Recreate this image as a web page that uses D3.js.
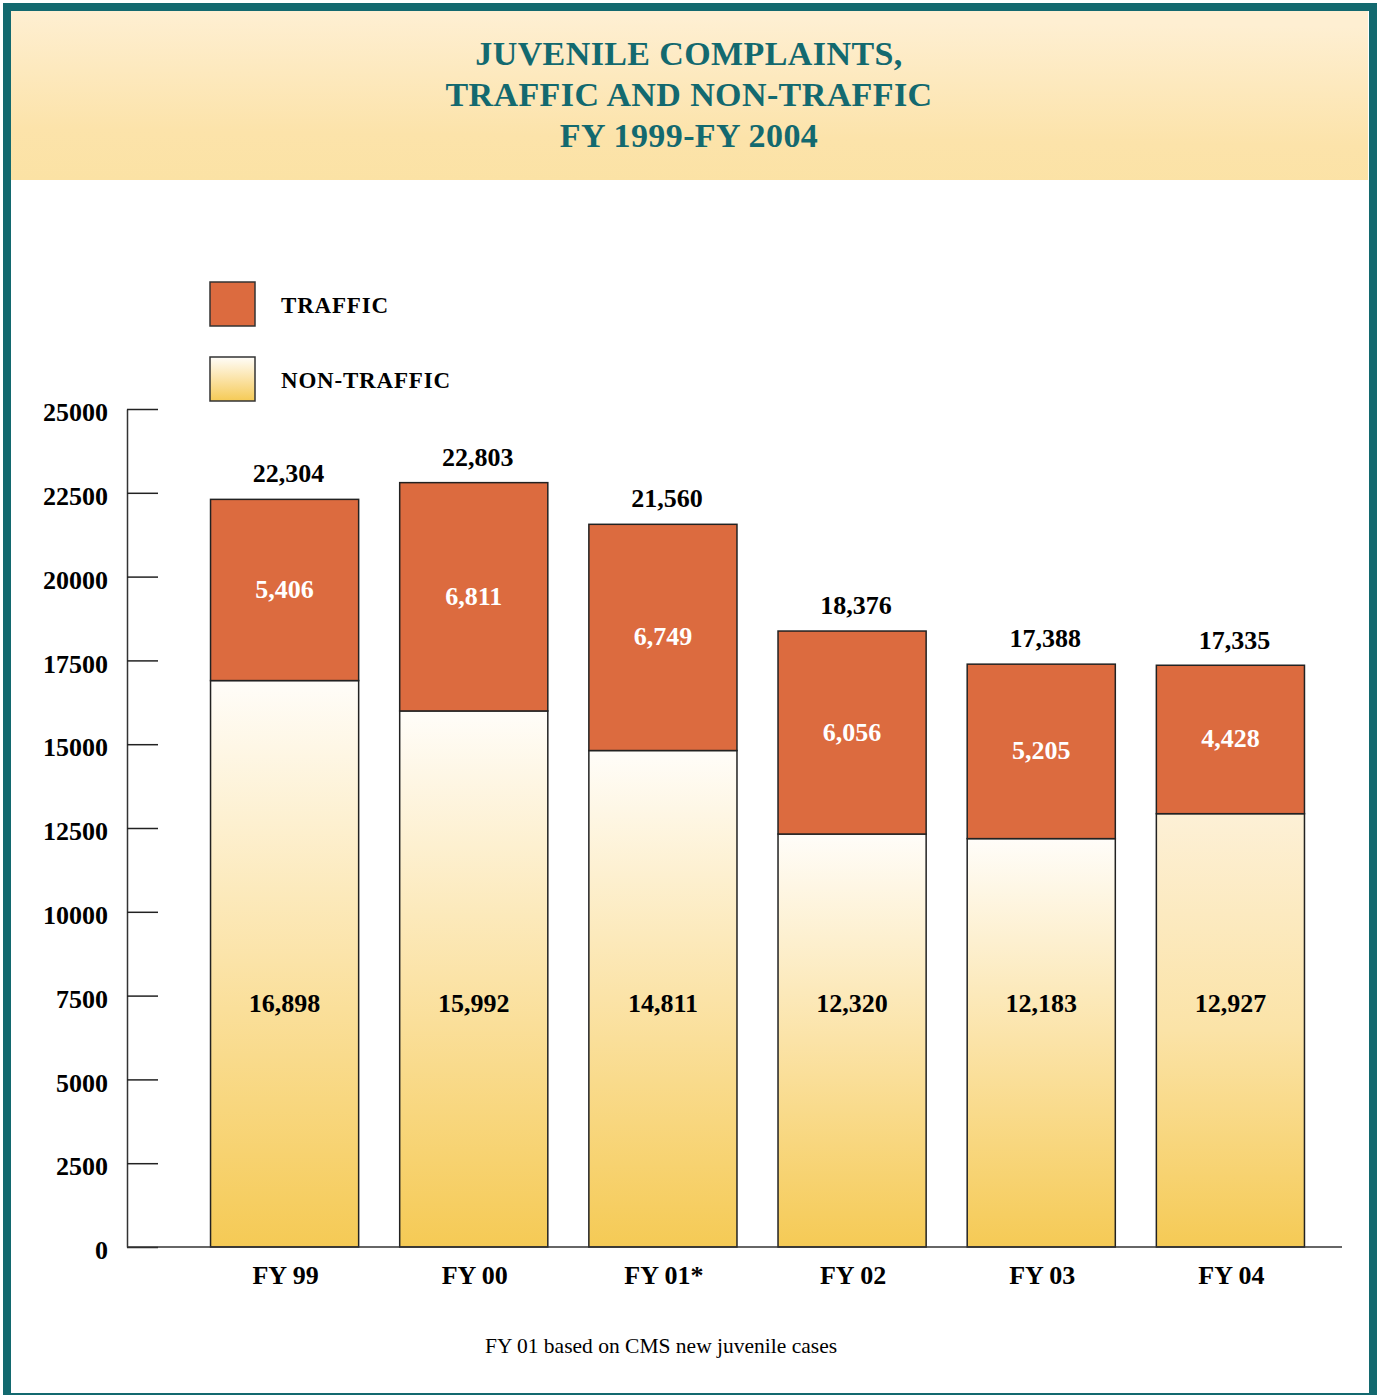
<!DOCTYPE html>
<html>
<head>
<meta charset="utf-8">
<script src="https://cdn.jsdelivr.net/npm/d3@7"></script>
<style>
	body { margin: 0; background: #fff; }
	svg { display: block; }
</style>
</head>
<body>
<script>

// chart values
var years = ["FY 99", "FY 00", "FY 01*", "FY 02", "FY 03", "FY 04"];
var nonTraffic = [16898, 15992, 14811, 12320, 12183, 12927];
var traffic = [5406, 6811, 6749, 6056, 5205, 4428];
var totals = [22304, 22803, 21560, 18376, 17388, 17335];
var yTicks = [0, 2500, 5000, 7500, 10000, 12500, 15000, 17500, 20000, 22500, 25000];
var titleLines = ["JUVENILE COMPLAINTS,", "TRAFFIC AND NON-TRAFFIC", "FY 1999-FY 2004"];
var legendItems = ["TRAFFIC", "NON-TRAFFIC"];
var note = "FY 01 based on CMS new juvenile cases";

var W = 1377, H = 1395;
var teal = "#13696f", orange = "#dc6b3f";
var serif = "'Liberation Serif', 'Times New Roman', serif";

var svg = d3.select("body").append("svg")
	.attr("width", W)
	.attr("height", H);

var defs = svg.append("defs");

// title band gradient
var band = defs.append("linearGradient").attr("id", "bandGrad")
	.attr("x1", 0.1).attr("y1", 0).attr("x2", 0).attr("y2", 1);
band.append("stop").attr("offset", 0).attr("stop-color", "#feefd2");
band.append("stop").attr("offset", 0.7).attr("stop-color", "#fce3aa");
band.append("stop").attr("offset", 1).attr("stop-color", "#fbe2a4");

// non-traffic gradient (white -> yellow)
function ntGradient(id, top) {
	var g = defs.append("linearGradient").attr("id", id)
		.attr("x1", 0).attr("y1", 0).attr("x2", 0).attr("y2", 1);
	g.append("stop").attr("offset", 0).attr("stop-color", top);
	g.append("stop").attr("offset", 0.5).attr("stop-color", "#fbe3a7");
	g.append("stop").attr("offset", 1).attr("stop-color", "#f5ca55");
}
ntGradient("ntGrad", "#fffdf9");
ntGradient("ntGradAlt", "#fdf0d6");

// frame and title band
svg.append("rect")
	.attr("x", 7).attr("y", 7)
	.attr("width", 1366).attr("height", 1390)
	.attr("fill", "#fff")
	.attr("stroke", teal)
	.attr("stroke-width", 8);

svg.append("rect")
	.attr("x", 11).attr("y", 11)
	.attr("width", 1357).attr("height", 169)
	.attr("fill", "url(#bandGrad)");

svg.append("g").selectAll("text")
	.data(titleLines)
	.enter().append("text")
		.attr("x", 689)
		.attr("y", function(d, i) { return 65 + i * 41; })
		.attr("text-anchor", "middle")
		.attr("fill", teal)
		.attr("font-family", serif)
		.attr("font-weight", "bold")
		.attr("font-size", "34px")
		.attr("letter-spacing", "0.4px")
		.text(function(d) { return d; });

// scales
var x = d3.scaleBand()
	.domain(years)
	.range([127, 1342])
	.paddingInner(0.217)
	.paddingOuter(0.32)
	.align(0.69);

var y = d3.scaleLinear()
	.domain([0, 25000])
	.range([1247, 409]);

var bw = x.bandwidth();

// y axis
var yAxis = svg.append("g")
	.attr("transform", "translate(127,0)")
	.call(d3.axisLeft(y)
		.tickValues(yTicks)
		.tickFormat(d3.format("d"))
		.tickSizeInner(-31)
		.tickSizeOuter(0)
		.tickPadding(19));

yAxis.select(".domain").attr("stroke", "#333").attr("stroke-width", 1.5);
yAxis.selectAll(".tick line").attr("stroke", "#222").attr("stroke-width", 1.5);
yAxis.selectAll(".tick text")
	.attr("fill", "#000")
	.attr("font-family", serif)
	.attr("font-weight", "bold")
	.attr("font-size", "26px")
	.attr("dy", "0.45em");

// bars
var bars = svg.append("g").selectAll("g")
	.data(years)
	.enter().append("g");

bars.append("rect")
	.attr("x", function(d) { return x(d); })
	.attr("y", function(d, i) { return y(nonTraffic[i]); })
	.attr("width", bw)
	.attr("height", function(d, i) { return y(0) - y(nonTraffic[i]); })
	.attr("fill", function(d, i) { return i === 5 ? "url(#ntGradAlt)" : "url(#ntGrad)"; })
	.attr("stroke", "#222")
	.attr("stroke-width", 1.5);

bars.append("rect")
	.attr("x", function(d) { return x(d); })
	.attr("y", function(d, i) { return y(nonTraffic[i] + traffic[i]); })
	.attr("width", bw)
	.attr("height", function(d, i) { return y(nonTraffic[i]) - y(nonTraffic[i] + traffic[i]); })
	.attr("fill", orange)
	.attr("stroke", "#222")
	.attr("stroke-width", 1.5);

// x axis baseline
svg.append("line")
	.attr("x1", x.range()[0]).attr("x2", x.range()[1])
	.attr("y1", y(0)).attr("y2", y(0))
	.attr("stroke", "#333")
	.attr("stroke-width", 1.5);

var fmt = d3.format(",");

// value labels
bars.append("text")
	.attr("x", function(d) { return x(d) + bw / 2 + 4; })
	.attr("y", function(d, i) { return y(totals[i]) - 17; })
	.attr("text-anchor", "middle")
	.attr("font-family", serif)
	.attr("font-weight", "bold")
	.attr("font-size", "26px")
	.text(function(d, i) { return fmt(totals[i]); });

bars.append("text")
	.attr("x", function(d) { return x(d) + bw / 2; })
	.attr("y", function(d, i) { return (y(nonTraffic[i]) + y(nonTraffic[i] + traffic[i])) / 2 + 8; })
	.attr("text-anchor", "middle")
	.attr("fill", "#fff")
	.attr("font-family", serif)
	.attr("font-weight", "bold")
	.attr("font-size", "26px")
	.text(function(d, i) { return fmt(traffic[i]); });

bars.append("text")
	.attr("x", function(d) { return x(d) + bw / 2; })
	.attr("y", y(7000))
	.attr("text-anchor", "middle")
	.attr("fill", "#000")
	.attr("font-family", serif)
	.attr("font-weight", "bold")
	.attr("font-size", "26px")
	.text(function(d, i) { return fmt(nonTraffic[i]); });

// category labels
bars.append("text")
	.attr("x", function(d) { return x(d) + bw / 2 + 1; })
	.attr("y", 1284)
	.attr("text-anchor", "middle")
	.attr("font-family", serif)
	.attr("font-weight", "bold")
	.attr("font-size", "26px")
	.text(function(d) { return d; });

// legend
var legend = svg.append("g").selectAll("g")
	.data(legendItems)
	.enter().append("g")
		.attr("transform", function(d, i) { return "translate(210," + (282 + i * 75) + ")"; });

legend.append("rect")
	.attr("width", 45)
	.attr("height", 44)
	.attr("fill", function(d, i) { return i === 0 ? orange : "url(#ntGrad)"; })
	.attr("stroke", "#333")
	.attr("stroke-width", 1.5);

legend.append("text")
	.attr("x", 71)
	.attr("y", 31)
	.attr("font-family", serif)
	.attr("font-weight", "bold")
	.attr("font-size", "23px")
	.attr("letter-spacing", "0.8px")
	.text(function(d) { return d; });

// footnote
svg.append("text")
	.attr("x", 661)
	.attr("y", 1353)
	.attr("text-anchor", "middle")
	.attr("font-family", serif)
	.attr("font-size", "21.5px")
	.text(note);

</script>
</body>
</html>
